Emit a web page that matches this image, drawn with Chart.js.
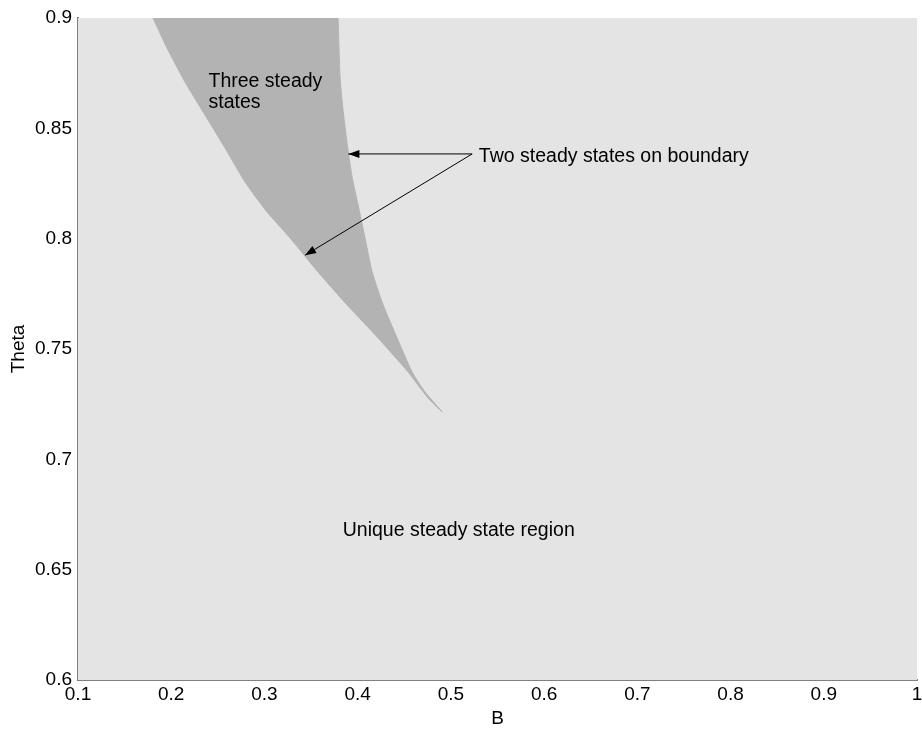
<!DOCTYPE html>
<html>
<head>
<meta charset="utf-8">
<script src="https://cdn.jsdelivr.net/npm/chart.js@4/dist/chart.umd.min.js"></script>
<style>
  html, body { margin: 0; padding: 0; background: #fff; }
  #wrap { width: 922px; height: 734px; }
</style>
</head>
<body>
<div id="wrap"><canvas id="myChart" width="922" height="734"></canvas></div>
<script>
// lower-left boundary of the three steady state region (top to tip)
var leftB     = [0.1805, 0.1955, 0.2148, 0.2363, 0.2577, 0.2792, 0.3028, 0.3275, 0.3575, 0.3886, 0.4219, 0.4541, 0.4755, 0.4906];
var leftTheta = [0.9000, 0.8864, 0.8710, 0.8560, 0.8411, 0.8257, 0.8121, 0.8003, 0.7849, 0.7700, 0.7550, 0.7396, 0.7278, 0.7215];
// right boundary (tip to top)
var rightB     = [0.4723, 0.4584, 0.4423, 0.4273, 0.4155, 0.4079, 0.4004, 0.3940, 0.3886, 0.3843, 0.3811, 0.3790];
var rightTheta = [0.7305, 0.7396, 0.7550, 0.7700, 0.7849, 0.8003, 0.8153, 0.8280, 0.8434, 0.8583, 0.8733, 0.9000];

var xTicks = [0.1, 0.2, 0.3, 0.4, 0.5, 0.6, 0.7, 0.8, 0.9, 1];
var yTicks = [0.6, 0.65, 0.7, 0.75, 0.8, 0.85, 0.9];
var xTickLabels = ['0.1', '0.2', '0.3', '0.4', '0.5', '0.6', '0.7', '0.8', '0.9', '1'];
var yTickLabels = ['0.6', '0.65', '0.7', '0.75', '0.8', '0.85', '0.9'];

// annotation texts and arrows, in data units
var labels = [
    { text: 'Three steady', b: 0.240, t: 0.8710 },
    { text: 'states', b: 0.240, t: 0.8615 },
    { text: 'Two steady states on boundary', b: 0.530, t: 0.8370 },
    { text: 'Unique steady state region', b: 0.384, t: 0.6676 }
];
var arrows = [
    { fromB: 0.5228, fromT: 0.8384, toB: 0.3900, toT: 0.8384 },
    { fromB: 0.5228, fromT: 0.8384, toB: 0.3436, toT: 0.7925 }
];

var regionPts = [];
for (var i = 0; i < leftB.length; i++) regionPts.push({ x: leftB[i], y: leftTheta[i] });
for (var j = 0; j < rightB.length; j++) regionPts.push({ x: rightB[j], y: rightTheta[j] });

var FONT = 'Arial, "Liberation Sans", sans-serif';
var FSIZE = 19;

var bgPlugin = {
    id: 'bg',
    beforeDatasetsDraw: function(chart) {
        var a = chart.chartArea, ctx = chart.ctx;
        ctx.save();
        ctx.fillStyle = '#e4e4e4';
        ctx.fillRect(a.left, a.top, a.right - a.left, a.bottom - a.top);
        ctx.restore();
    }
};

var notePlugin = {
    id: 'notes',
    afterDatasetsDraw: function(chart) {
        var ctx = chart.ctx, xs = chart.scales.x, ys = chart.scales.y;
        ctx.save();
        ctx.fillStyle = '#000';
        ctx.font = '19.5px ' + FONT;
        ctx.textBaseline = 'middle';
        ctx.textAlign = 'left';
        labels.forEach(function(l) {
            ctx.fillText(l.text, xs.getPixelForValue(l.b), ys.getPixelForValue(l.t));
        });
        ctx.strokeStyle = '#000';
        ctx.lineWidth = 1;
        arrows.forEach(function(ar) {
            var x1 = xs.getPixelForValue(ar.fromB), y1 = ys.getPixelForValue(ar.fromT);
            var x2 = xs.getPixelForValue(ar.toB), y2 = ys.getPixelForValue(ar.toT);
            var ang = Math.atan2(y2 - y1, x2 - x1);
            ctx.beginPath();
            ctx.moveTo(x1, y1);
            ctx.lineTo(x2, y2);
            ctx.stroke();
            var len = 11, w = 4;
            ctx.beginPath();
            ctx.moveTo(x2, y2);
            ctx.lineTo(x2 - len * Math.cos(ang) + w * Math.sin(ang), y2 - len * Math.sin(ang) - w * Math.cos(ang));
            ctx.lineTo(x2 - len * Math.cos(ang) - w * Math.sin(ang), y2 - len * Math.sin(ang) + w * Math.cos(ang));
            ctx.closePath();
            ctx.fill();
        });
        ctx.restore();
    }
};

var ctx = document.getElementById('myChart').getContext('2d');
var myChart = new Chart(ctx, {
    type: 'scatter',
    data: {
        datasets: [{
            label: 'Three steady states',
            data: regionPts,
            showLine: true,
            fill: 'shape',
            backgroundColor: '#b3b3b3',
            borderColor: '#b3b3b3',
            borderWidth: 1,
            pointRadius: 0,
            tension: 0.2
        }]
    },
    options: {
        responsive: false,
        animation: false,
        layout: { padding: { top: 18, right: 0, left: 0, bottom: 0 } },
        plugins: {
            legend: { display: false },
            tooltip: { enabled: false }
        },
        scales: {
            x: {
                type: 'linear',
                min: 0.1,
                max: 1,
                afterBuildTicks: function(s) { s.ticks = xTicks.map(function(v) { return { value: v }; }); },
                afterFit: function(s) { s.height = 54; s.paddingRight = 5; s.paddingLeft = 0; },
                grid: { display: false, drawTicks: false },
                border: { display: true, color: '#808080', width: 2 },
                ticks: {
                    color: '#000',
                    font: { family: FONT, size: FSIZE },
                    padding: 3,
                    maxRotation: 0,
                    autoSkip: false,
                    callback: function(v) { return xTickLabels[xTicks.indexOf(Math.round(v * 100) / 100)]; }
                },
                title: { display: true, text: 'B', color: '#000', font: { family: FONT, size: FSIZE }, padding: { top: 0, bottom: 4 } }
            },
            y: {
                type: 'linear',
                min: 0.6,
                max: 0.9,
                afterBuildTicks: function(s) { s.ticks = yTicks.map(function(v) { return { value: v }; }); },
                afterFit: function(s) { s.width = 78; },
                grid: { display: false, drawTicks: false },
                border: { display: true, color: '#808080', width: 2 },
                ticks: {
                    color: '#000',
                    font: { family: FONT, size: FSIZE },
                    padding: 6,
                    autoSkip: false,
                    callback: function(v) { return yTickLabels[yTicks.indexOf(Math.round(v * 100) / 100)]; }
                },
                title: { display: true, text: 'Theta', color: '#000', font: { family: FONT, size: FSIZE }, padding: { top: 7, bottom: 0 } }
            }
        }
    },
    plugins: [bgPlugin, notePlugin]
});
</script>
</body>
</html>
